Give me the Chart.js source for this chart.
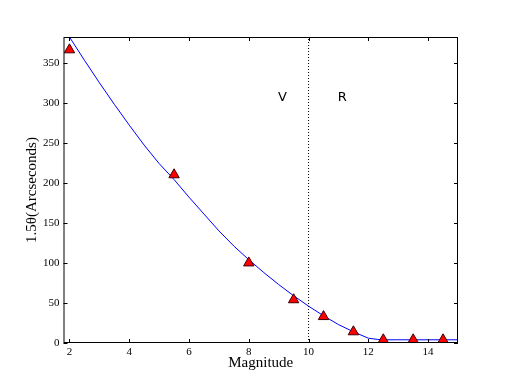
<!DOCTYPE html>
<html>
<head>
<meta charset="utf-8">
<script src="https://cdn.jsdelivr.net/npm/chart.js@4"></script>
<style>
html,body{margin:0;padding:0;background:#fff;}
#wrap{width:509px;height:371px;position:relative;}
</style>
</head>
<body>
<div id="wrap"><canvas id="c" width="509" height="371"></canvas></div>
<script>
// Observed data (triangles)
const obsMag = [2, 5.5, 8, 9.5, 10.5, 11.5, 12.5, 13.5, 14.5];
const obsTheta = [366, 210, 100, 54, 33, 14, 4, 4, 4];
// Fitted curve
const fitMag = [2, 2.5, 3, 3.5, 4, 4.5, 5, 5.5, 6, 6.5, 7, 7.5, 8, 8.5, 9, 9.5, 10, 10.5, 11, 11.5, 12, 12.3, 12.5, 13, 14, 15];
const fitTheta = [382, 353, 325, 298, 272, 247, 224, 204, 182, 161, 140, 121, 104, 88, 73, 59, 46, 34, 23, 14, 6, 4.5, 4, 4, 4, 4];
// Band boundary and labels
const boundaryMag = 10;
const bandLabels = ["V", "R"];
const bandLabelMag = [9.13, 11.13];
const bandLabelTheta = [306, 306];
// Axes
const xTicks = [2, 4, 6, 8, 10, 12, 14];
const yTicks = [0, 50, 100, 150, 200, 250, 300, 350];
const xRange = [1.8, 15];
const yRange = [0, 382];

const serif = "'Liberation Serif', 'DejaVu Serif', serif";

const framePlugin = {
  id: 'frame',
  afterDatasetsDraw(chart) {
    const {ctx, chartArea: a, scales: {x, y}} = chart;
    ctx.save();
    // band labels
    ctx.fillStyle = '#000';
    ctx.font = "13px 'DejaVu Sans', sans-serif";
    ctx.textAlign = 'center';
    ctx.textBaseline = 'middle';
    bandLabels.forEach((t, i) => {
      ctx.fillText(t, x.getPixelForValue(bandLabelMag[i]), y.getPixelForValue(bandLabelTheta[i]));
    });
    // frame
    ctx.strokeStyle = '#000';
    ctx.lineWidth = 1;
    ctx.strokeRect(a.left + 0.5, a.top + 0.5, a.right - a.left - 1, a.bottom - a.top - 1);
    // inside ticks
    const L = 4;
    ctx.beginPath();
    xTicks.forEach(v => {
      const px = Math.round(x.getPixelForValue(v)) + 0.5;
      ctx.moveTo(px, a.bottom); ctx.lineTo(px, a.bottom - L);
      ctx.moveTo(px, a.top); ctx.lineTo(px, a.top + L);
    });
    yTicks.forEach(v => {
      const py = Math.round(y.getPixelForValue(v)) + 0.5;
      ctx.moveTo(a.left, py); ctx.lineTo(a.left + L, py);
      ctx.moveTo(a.right, py); ctx.lineTo(a.right - L, py);
    });
    ctx.stroke();
    ctx.restore();
  }
};

new Chart(document.getElementById('c'), {
  type: 'scatter',
  data: {
    datasets: [
      {
        data: fitMag.map((m, i) => ({x: m, y: fitTheta[i]})),
        showLine: true,
        borderColor: '#0000ff',
        borderWidth: 1,
        pointRadius: 0,
        fill: false,
        order: 2
      },
      {
        data: [{x: boundaryMag, y: yRange[0]}, {x: boundaryMag, y: yRange[1]}],
        showLine: true,
        borderColor: '#000',
        borderWidth: 1,
        borderDash: [1, 2],
        pointRadius: 0,
        order: 3
      },
      {
        data: obsMag.map((m, i) => ({x: m, y: obsTheta[i]})),
        pointStyle: 'triangle',
        pointRadius: 6,
        backgroundColor: '#ff0000',
        borderColor: '#400000',
        borderWidth: 1,
        order: 1
      }
    ]
  },
  options: {
    responsive: false,
    animation: false,
    events: [],
    layout: {padding: {left: 0, right: 509 - 458, top: 37, bottom: 0}},
    plugins: {legend: {display: false}, tooltip: {enabled: false}},
    scales: {
      x: {
        type: 'linear',
        min: xRange[0], max: xRange[1],
        afterBuildTicks: s => { s.ticks = xTicks.map(v => ({value: v})); },
        afterFit: s => { s.height = 28; },
        grid: {display: false, drawTicks: false},
        border: {display: false},
        ticks: {padding: 3, color: '#000', font: {family: serif, size: 11}, maxRotation: 0},
        title: {display: true, text: 'Magnitude', color: '#000', font: {family: serif, size: 15, lineHeight: 1}, padding: {top: 0, bottom: 0}}
      },
      y: {
        type: 'linear',
        min: yRange[0], max: yRange[1],
        afterBuildTicks: s => { s.ticks = yTicks.map(v => ({value: v})); },
        afterFit: s => { s.width = 63.5; },
        grid: {display: false, drawTicks: false},
        border: {display: false},
        ticks: {padding: 4, color: '#000', font: {family: serif, size: 11}},
        title: {display: true, text: '1.5θ(Arcseconds)', color: '#000', font: {family: serif, size: 15, lineHeight: 1}, padding: {top: 25, bottom: 0}}
      }
    }
  },
  plugins: [framePlugin]
});
</script>
</body>
</html>
